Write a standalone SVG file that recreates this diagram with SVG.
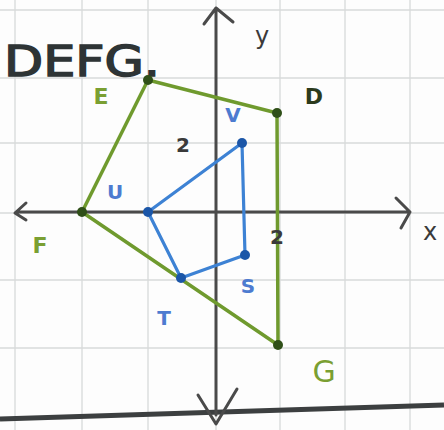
<svg xmlns="http://www.w3.org/2000/svg" width="444" height="430" viewBox="0 0 444 430">
<style>
.grid{stroke:#d8dada;stroke-width:1.3;fill:none}
.axis{stroke:#4a4a4a;stroke-width:3;fill:none;stroke-linecap:round;stroke-linejoin:round}
.green{stroke:#6f9a2e;stroke-width:3.5;fill:none;stroke-linejoin:round}
.blue{stroke:#3d82d4;stroke-width:3.2;fill:none;stroke-linejoin:round}
.gdot{fill:#2f4f18}
.bdot{fill:#1b56a8}
text{font-family:"DejaVu Sans",sans-serif;text-anchor:middle;font-weight:bold}
.lg{fill:#7a9f32;font-size:22px}
.lb{fill:#4d7bd0;font-size:20px}
.lk{fill:#3a3a3a;font-size:20px}
</style>
<rect width="444" height="430" fill="#fdfdfd"/>
<g id="grid">
<path class="grid" d="M15 0V430M82 0V430M148 0V430M216 0V430M280 0V430M345 0V430M410 0V430"/>
<path class="grid" d="M0 10H444M0 78H444M0 143H444M0 213H444M0 280H444M0 348H444"/>
</g>
<text x="82" y="76" style="font-size:42px;fill:#2e3435;font-weight:normal;stroke:#2e3435;stroke-width:1.5" textLength="156" lengthAdjust="spacingAndGlyphs">DEFG.</text>
<path d="M0 419L444 405" stroke="#3c3f40" stroke-width="5"/>
<g id="connectors">
<path class="axis" d="M216 415V8M204 24L216 8L233 22M198 395L216 424L237 389"/>
<path class="axis" d="M16 212H410M396 198L410 212L401 228M26 203L15 213L26 220"/>
<path class="green" d="M148 80L277 113L278 345L82 212Z"/>
<path class="blue" d="M242 143L245 255L181 278L148 212Z"/>
</g>
<g id="E"><circle class="gdot" cx="148" cy="80" r="5"/><text class="lg" x="101" y="104">E</text></g>
<g id="D"><circle class="gdot" cx="277" cy="113" r="5"/><text class="lg" x="314" y="104" style="fill:#2c3a1c">D</text></g>
<g id="G"><circle class="gdot" cx="278" cy="345" r="5"/><text class="lg" x="324" y="382" style="font-size:30px;font-weight:normal">G</text></g>
<g id="F"><circle class="gdot" cx="82" cy="212" r="5"/><text class="lg" x="40" y="253">F</text></g>
<g id="V"><circle class="bdot" cx="242" cy="143" r="5"/><text class="lb" x="233" y="122">V</text></g>
<g id="S"><circle class="bdot" cx="245" cy="255" r="5"/><text class="lb" x="248" y="293">S</text></g>
<g id="T"><circle class="bdot" cx="181" cy="278" r="5"/><text class="lb" x="164" y="325">T</text></g>
<g id="U"><circle class="bdot" cx="148" cy="212" r="5"/><text class="lb" x="115" y="199">U</text></g>
<g id="labels">
<text class="lk" x="183" y="152">2</text>
<text class="lk" x="277" y="244">2</text>
<text class="lk" x="430" y="240" style="font-size:24px;font-weight:normal">x</text>
<text class="lk" x="262" y="44" style="font-size:24px;font-weight:normal">y</text>
</g>
</svg>
